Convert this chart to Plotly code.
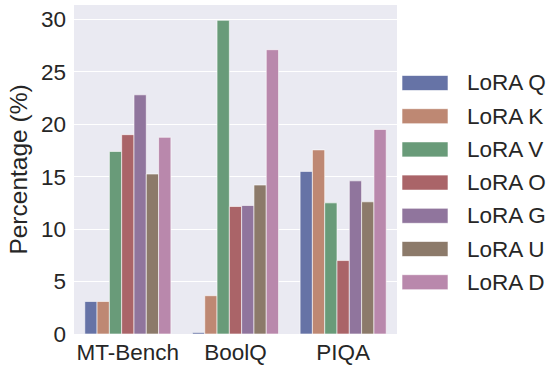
import plotly.graph_objects as go

categories = ["MT-Bench", "BoolQ", "PIQA"]
series_names = ["LoRA Q", "LoRA K", "LoRA V", "LoRA O", "LoRA G", "LoRA U", "LoRA D"]
lora_q = [3.1, 0.15, 15.5]
lora_k = [3.1, 3.65, 17.55]
lora_v = [17.4, 29.9, 12.5]
lora_o = [19.0, 12.15, 7.0]
lora_g = [22.8, 12.25, 14.6]
lora_u = [15.25, 14.2, 12.6]
lora_d = [18.75, 27.1, 19.5]
series_values = [lora_q, lora_k, lora_v, lora_o, lora_g, lora_u, lora_d]
y_ticks = [0, 5, 10, 15, 20, 25, 30]

colors = ["#6673a6", "#be8873", "#699b79", "#aa6468", "#90759d", "#8c7a6a", "#b988ac"]

W, H = 549, 365
L, R, T, B = 74, 152, 5, 31
pw, ph = W - L - R, H - T - B

fig = go.Figure()
for name, vals, c in zip(series_names, series_values, colors):
    fig.add_trace(go.Bar(
        x=categories, y=vals, name=name, showlegend=False,
        marker=dict(color=c, line=dict(color="rgba(255,255,255,0.6)", width=1)),
    ))

# custom legend (large rectangular swatches, like matplotlib)
shapes, annots = [], []
for i, (name, c) in enumerate(zip(series_names, colors)):
    yc = 83 + 33.2 * i
    y_top = (H - B - (yc - 7.5)) / ph
    y_bot = (H - B - (yc + 7.5)) / ph
    shapes.append(dict(type="rect", xref="paper", yref="paper",
                       x0=(402 - L) / pw, x1=(448 - L) / pw, y0=y_bot, y1=y_top,
                       fillcolor=c, line=dict(color="rgba(255,255,255,0.6)", width=1)))
    annots.append(dict(xref="paper", yref="paper", x=(465 - L) / pw, y=(H - B - yc) / ph,
                       xanchor="left", yanchor="middle", text=name, showarrow=False,
                       font=dict(size=22.5, color="#262626")))

fig.update_layout(
    width=W, height=H,
    margin=dict(l=L, r=R, t=T, b=B, autoexpand=False),
    barmode="group", bargap=0.2, bargroupgap=0,
    plot_bgcolor="#EAEAF2", paper_bgcolor="white",
    font=dict(family="Liberation Sans, Arial, sans-serif", size=22, color="#262626"),
    showlegend=False,
    shapes=shapes, annotations=annots,
)
fig.update_xaxes(showgrid=False, ticks="", showline=False, tickfont=dict(size=22.5),
                 range=[-0.5, 2.5], automargin=False, ticklabelstandoff=2)
fig.update_yaxes(range=[0, 31.36], tickvals=y_ticks, gridcolor="white", gridwidth=1,
                 zeroline=False, ticks="", showline=False, tickfont=dict(size=22.5),
                 automargin=False, ticklabelstandoff=7,
                 title=dict(text="Percentage (%)", font=dict(size=24.5), standoff=6))

fig.write_html("out.html",
               config={"displayModeBar": False},
               post_script="document.body.style.margin='0';document.body.style.padding='0';document.body.style.overflow='hidden';")
